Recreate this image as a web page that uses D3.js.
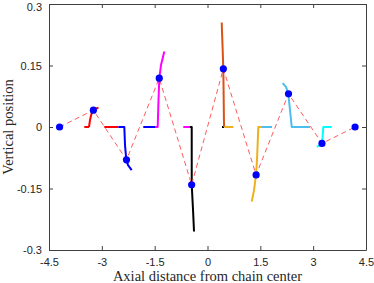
<!DOCTYPE html>
<html>
<head>
<meta charset="utf-8">
<script src="https://cdn.jsdelivr.net/npm/d3@7"></script>
<style>
  html, body { margin: 0; padding: 0; background: #fff; }
  .tick text { font-family: "Liberation Sans", Arial, sans-serif; font-size: 11px; fill: #262626; }
  .axis-label { font-family: "Liberation Serif", "DejaVu Serif", serif; font-size: 14.5px; fill: #262626; }
</style>
</head>
<body>
<div id="chart"></div>
<script>
// tick values
const xTicks = [-4.5, -3, -1.5, 0, 1.5, 3, 4.5];
const yTicks = [-0.3, -0.15, 0, 0.15, 0.3];

// bead positions (blue dots joined by dashed line)
const beadX = [-4.2, -3.24, -2.30, -1.37, -0.45, 0.45, 1.38, 2.30, 3.25, 4.19];
const beadY = [0, 0.041, -0.080, 0.119, -0.141, 0.142, -0.117, 0.081, -0.040, 0];

// bead trajectories, one list of pieces per colour
const redPath = [
  [[-3.498, 0], [-3.364, 0]],
  [[-3.364, 0], [-3.336, 0.017], [-3.279, 0.037], [-3.242, 0.041], [-3.166, 0.045], [-3.095, 0.047]],
  [[-2.930, 0], [-2.532, 0]]
];
const bluePath = [
  [[-2.532, 0], [-2.362, 0], [-2.342, -0.044], [-2.305, -0.080], [-2.257, -0.093], [-2.152, -0.105]],
  [[-1.823, 0], [-1.490, 0]]
];
const magentaPath = [
  [[-1.490, 0], [-1.414, 0], [-1.391, 0.066], [-1.368, 0.119], [-1.320, 0.151], [-1.226, 0.184]],
  [[-0.687, 0], [-0.497, 0]]
];
const blackPath = [
  [[-0.497, 0], [-0.448, 0], [-0.448, -0.141], [-0.411, -0.202], [-0.383, -0.255]],
  [[0.412, 0], [0.469, 0]]
];
const orangePath = [
  [[0.469, 0], [0.449, 0.142], [0.426, 0.200], [0.403, 0.255]]
];
const yellowPath = [
  [[0.478, 0], [0.733, 0]],
  [[1.255, -0.182], [1.321, -0.154], [1.377, -0.117], [1.406, -0.080], [1.443, 0], [1.548, 0]]
];
const lightBluePath = [
  [[1.548, 0], [1.832, 0]],
  [[2.135, 0.107], [2.229, 0.098], [2.294, 0.081], [2.343, 0.041], [2.391, 0], [2.911, 0]]
];
const cyanPath = [
  [[3.101, -0.048], [3.166, -0.046], [3.243, -0.040], [3.265, -0.027], [3.288, 0], [3.527, 0]]
];

const trajectories = [
  {color: '#ff0000', pieces: redPath},
  {color: '#0000ff', pieces: bluePath},
  {color: '#ff00ff', pieces: magentaPath},
  {color: '#000000', pieces: blackPath},
  {color: '#d95319', pieces: orangePath},
  {color: '#edb120', pieces: yellowPath},
  {color: '#4dbeee', pieces: lightBluePath},
  {color: '#00ffff', pieces: cyanPath}
];

const width = 374, height = 283;
const margin = {left: 49, right: 8, top: 4, bottom: 33};
const w = width - margin.left - margin.right;
const h = height - margin.top - margin.bottom;

const x = d3.scaleLinear().domain([-4.5, 4.5]).range([0, w]);
const y = d3.scaleLinear().domain([-0.3, 0.3]).range([h, 0]);

const svg = d3.select('#chart').append('svg')
  .attr('width', width)
  .attr('height', height)
  .append('g')
  .attr('transform', 'translate(' + margin.left + ',' + margin.top + ')');

const fmt = d => String(+d.toFixed(2));
const tickLen = 4;

// axes, with inward ticks on all four sides
function styleAxis(g) {
  g.selectAll('.domain').attr('stroke', '#404040').attr('stroke-width', 1);
  g.selectAll('.tick line').attr('stroke', '#404040');
}

svg.append('g').attr('class', 'x-axis')
  .attr('transform', 'translate(0,' + h + ')')
  .call(d3.axisBottom(x).tickValues(xTicks).tickFormat(fmt).tickSizeInner(-tickLen).tickSizeOuter(0).tickPadding(8))
  .call(styleAxis);

svg.append('g')
  .call(d3.axisTop(x).tickValues(xTicks).tickFormat('').tickSizeInner(-tickLen).tickSizeOuter(0))
  .call(styleAxis);

svg.append('g').attr('class', 'y-axis')
  .call(d3.axisLeft(y).tickValues(yTicks).tickFormat(fmt).tickSizeInner(-tickLen).tickSizeOuter(0).tickPadding(7))
  .call(styleAxis);

// keep the top label inside the picture, as in the original
svg.select('.y-axis').selectAll('.tick text')
  .filter(d => d === 0.3)
  .attr('dy', '0.6em');

svg.append('g')
  .attr('transform', 'translate(' + w + ',0)')
  .call(d3.axisRight(y).tickValues(yTicks).tickFormat('').tickSizeInner(-tickLen).tickSizeOuter(0))
  .call(styleAxis);

// trajectories
const line = d3.line().x(d => x(d[0])).y(d => y(d[1]));

trajectories.forEach(t => {
  svg.append('g').selectAll('path')
    .data(t.pieces)
    .enter()
    .append('path')
      .attr('d', line)
      .attr('fill', 'none')
      .attr('stroke', t.color)
      .attr('stroke-width', 2)
      .attr('stroke-linejoin', 'round');
});

// dashed chain through the beads
const beads = beadX.map((bx, i) => [bx, beadY[i]]);

svg.append('path')
  .datum(beads)
  .attr('d', line)
  .attr('fill', 'none')
  .attr('stroke', '#ff5a5a')
  .attr('stroke-width', 1)
  .attr('stroke-dasharray', '5,3.5');

svg.selectAll('.bead')
  .data(beads)
  .enter()
  .append('circle')
    .attr('class', 'bead')
    .attr('cx', d => x(d[0]))
    .attr('cy', d => y(d[1]))
    .attr('r', 3.6)
    .attr('fill', '#0000ff');

// axis labels
svg.append('text')
  .attr('class', 'axis-label')
  .attr('x', w / 2)
  .attr('y', h + 31)
  .attr('text-anchor', 'middle')
  .text('Axial distance from chain center');

svg.append('text')
  .attr('class', 'axis-label')
  .attr('transform', 'translate(' + (-36) + ',' + (h / 2) + ') rotate(-90)')
  .attr('text-anchor', 'middle')
  .text('Vertical position');
</script>
</body>
</html>
